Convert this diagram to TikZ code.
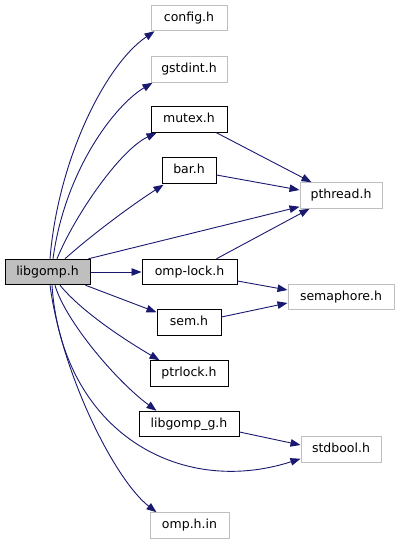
\documentclass[tikz,border=0pt]{standalone}
\usepackage{fontspec}
\setmainfont{DejaVu Sans}
\usetikzlibrary{arrows.meta}
\definecolor{edgeblue}{HTML}{191970}
\definecolor{lgray}{HTML}{BFBFBF}
\begin{document}
\begin{tikzpicture}[x=1pt,y=-1pt,
  base/.style={draw,line width=1pt,inner sep=0pt,minimum height=25.5pt,
    font=\fontsize{12.5pt}{14pt}\selectfont,text height=9.5pt,text depth=3.5pt,anchor=center},
  dark/.style={base,draw=black},
  light/.style={base,draw=lgray},
  main/.style={base,draw=black,fill=lgray},
  dep/.style={draw=edgeblue,line width=0.9pt,-{Triangle[length=10pt,width=7.5pt]}}
]
\useasboundingbox (0,0) rectangle (400,544);
\node[light,minimum width=76pt] (config) at (189,18) {config.h};
\node[light,minimum width=76pt] (gstdint) at (189,69.5) {gstdint.h};
\node[dark,minimum width=76pt] (mutex) at (189,119.5) {mutex.h};
\node[dark,minimum width=54pt] (bar) at (189,170.5) {bar.h};
\node[light,minimum width=82pt] (pthread) at (341,195.5) {pthread.h};
\node[main,minimum width=85pt] (libgomp) at (47.5,272) {libgomp.h};
\node[dark,minimum width=95pt] (omplock) at (189.5,272) {omp-lock.h};
\node[light,minimum width=106pt] (semaphore) at (341,297) {semaphore.h};
\node[dark,minimum width=64pt] (sem) at (189,322.5) {sem.h};
\node[dark,minimum width=78pt] (ptrlock) at (189,373.5) {ptrlock.h};
\node[dark,minimum width=100pt] (libgompg) at (189,424) {libgomp\_g.h};
\node[light,minimum width=80pt] (stdbool) at (341,449.5) {stdbool.h};
\node[light,minimum width=79pt] (omphin) at (189.5,525.5) {omp.h.in};

% from libgomp, top side
\draw[dep] ([xshift=2.5pt]libgomp.north) .. controls (58,160) and (105,65) .. ([xshift=4pt]config.south west);
\draw[dep] ([xshift=5.5pt]libgomp.north) .. controls (65,170) and (115,105) .. ([xshift=2pt]gstdint.south west);
\draw[dep] ([xshift=9.5pt]libgomp.north) .. controls (75,215) and (120,150) .. ([xshift=6pt]mutex.south west);
\draw[dep] ([xshift=17.5pt]libgomp.north) .. controls (95,232) and (135,203) .. ([xshift=2pt,yshift=-1pt]bar.south west);
\draw[dep] ([xshift=-2pt]libgomp.north east) -- ([yshift=2pt]pthread.south west);
\draw[dep] (libgomp.east) -- (omplock.west);
% from libgomp, bottom side
\draw[dep] ([xshift=-5pt]libgomp.south east) -- ([yshift=-3pt]sem.north west);
\draw[dep] ([xshift=12.5pt]libgomp.south) .. controls (82,312) and (125,340) .. ([xshift=10pt]ptrlock.north west);
\draw[dep] ([xshift=7.5pt]libgomp.south) .. controls (65,320) and (115,380) .. ([xshift=18pt]libgompg.north west);
\draw[dep] ([xshift=4.5pt]libgomp.south) .. controls (62,430) and (178,498) .. ([yshift=4pt]stdbool.south west);
\draw[dep] ([xshift=2.5pt]libgomp.south) .. controls (62,375) and (115,480) .. ([xshift=7pt]omphin.north west);
% others
\draw[dep] ([xshift=-11pt]mutex.south east) -- ([xshift=12pt]pthread.north west);
\draw[dep] ([yshift=-4.5pt]bar.east) -- ([yshift=5.5pt]pthread.west);
\draw[dep] ([xshift=-21pt]omplock.north east) -- ([xshift=10pt]pthread.south west);
\draw[dep] ([yshift=-9pt]omplock.east) -- ([yshift=7pt]semaphore.west);
\draw[dep] ([yshift=5.5pt]sem.east) -- ([yshift=-6pt]semaphore.west);
\draw[dep] ([yshift=-8pt]libgompg.east) -- ([yshift=4.5pt]stdbool.west);
\end{tikzpicture}
\end{document}
